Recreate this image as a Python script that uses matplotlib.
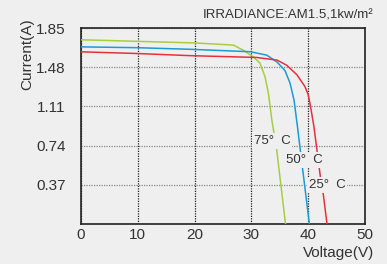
import matplotlib
matplotlib.use("Agg")
import matplotlib.pyplot as plt

# I-V curves (voltage V, current A)
v_25 = [0, 10, 19.2, 30.9, 34.5, 36.2, 38.0, 39.4, 40.0, 40.4, 41.0, 42.1, 42.7, 43.3]
i_25 = [1.626, 1.61, 1.59, 1.573, 1.548, 1.50, 1.41, 1.30, 1.22, 1.11, 0.92, 0.46, 0.26, 0.0]

v_50 = [0, 10, 19.2, 29.8, 32.7, 34.5, 35.9, 36.8, 37.5, 38.1, 38.6, 39.1, 40.2]
i_50 = [1.673, 1.665, 1.65, 1.627, 1.595, 1.53, 1.45, 1.33, 1.17, 0.92, 0.70, 0.48, 0.0]

v_75 = [0, 10, 20, 26.8, 28.6, 30.3, 31.5, 32.4, 33.0, 33.6, 34.45, 36.0]
i_75 = [1.74, 1.725, 1.71, 1.69, 1.64, 1.58, 1.52, 1.39, 1.23, 0.98, 0.70, 0.0]

x_ticks = [0, 10, 20, 30, 40, 50]
y_ticks = [0.37, 0.74, 1.11, 1.48, 1.85]
y_tick_labels = ["0.37", "0.74", "1.11", "1.48", "1.85"]

bg = "#efefef"
txt = "#333333"
plt.rcParams["font.family"] = ["Liberation Sans", "DejaVu Sans"]

fig = plt.figure(figsize=(3.87, 2.64), dpi=100, facecolor=bg)
ax = fig.add_axes([0.2093, 0.1515, 0.734, 0.742], facecolor=bg)

ax.plot(v_75, i_75, color="#a6cf3c", lw=1.1, zorder=3)
ax.plot(v_50, i_50, color="#1b9bd7", lw=1.1, zorder=3)
ax.plot(v_25, i_25, color="#e8313c", lw=1.1, zorder=3)

lbl = dict(fontsize=9.5, color=txt, ha="center", va="center", zorder=4,
           bbox=dict(boxstyle="square,pad=0.15", fc=bg, ec="none"))
ax.text(33.6, 0.78, "75°  C", **lbl)
ax.text(39.3, 0.60, "50°  C", **lbl)
ax.text(43.3, 0.37, "25°  C", **lbl)

ax.set_xlim(0, 50)
ax.set_ylim(0, 1.85)
ax.set_xticks(x_ticks)
ax.set_yticks(y_ticks)
ax.set_yticklabels(y_tick_labels)
ax.tick_params(length=0, labelsize=11, colors=txt)
ax.tick_params(axis="y", pad=11)
ax.tick_params(axis="x", pad=3)

ax.xaxis.grid(True, linestyle=(0, (1, 1)), color="#222222", lw=0.9)
ax.yaxis.grid(True, linestyle=(0, (1, 1)), color="#888888", lw=0.9)
ax.set_axisbelow(True)
for s in ax.spines.values():
    s.set_color("#222222")
    s.set_linewidth(1.2)

fig.text(0.07, 0.795, "Current(A)", rotation=90, fontsize=11,
         color=txt, ha="center", va="center")
fig.text(0.966, 0.04, "Voltage(V)", fontsize=11, color=txt,
         ha="right", va="center")
fig.text(0.966, 0.94, "IRRADIANCE:AM1.5,1kw/m²", fontsize=9.5,
         color=txt, ha="right", va="center")

fig.savefig("out.png", dpi=100, facecolor=bg)
